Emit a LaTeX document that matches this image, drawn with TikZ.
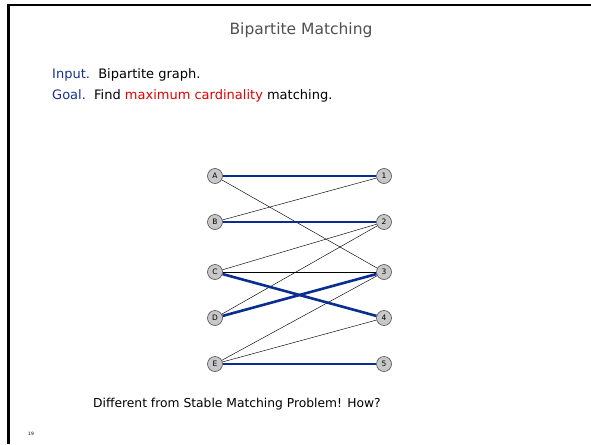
\documentclass[tikz,border=0pt]{standalone}
\usepackage{fontspec}
\setmainfont{DejaVu Sans}
\definecolor{kblue}{RGB}{20,50,150}
\definecolor{kred}{RGB}{225,0,0}
\definecolor{kgray}{RGB}{80,80,80}
\definecolor{nodefill}{RGB}{200,200,200}
\definecolor{edgeblue}{RGB}{10,45,145}
\begin{document}
\begin{tikzpicture}[x=1pt,y=-1pt,
  vert/.style={circle,draw=kgray,fill=nodefill,line width=0.6pt,minimum size=15pt,inner sep=0pt,font=\fontsize{7.5}{7.5}\selectfont},
  thin edge/.style={black,line width=0.45pt},
  match/.style={edgeblue,line width=2.6pt},
  body/.style={anchor=west,inner sep=0pt,font=\fontsize{13}{15}\selectfont}]
\useasboundingbox (0,0) rectangle (591,444);
\fill[white] (0,0) rectangle (591,444);
\draw[line width=2.5pt] (8.5,444) -- (8.5,5) -- (591,5);
\node[inner sep=0pt,text=kgray,font=\fontsize{15.5}{17}\selectfont] (title) at (301,30) {Bipartite Matching};
\node[body] (input) at (52,75) {\textcolor{kblue}{Input.}\ \ Bipartite graph.};
\node[body] (goal) at (52,96) {\textcolor{kblue}{Goal.}\ \ Find \textcolor{kred}{maximum cardinality} matching.};
\node[body,font=\fontsize{12.3}{14}\selectfont] (foot) at (93,404) {Different from Stable Matching Problem! How?};
\node[anchor=west,inner sep=0pt,font=\fontsize{4.5}{4.5}\selectfont] (pg) at (28,434) {19};
\node[vert] (A) at (215,176) {A};
\node[vert] (B) at (215,222) {B};
\node[vert] (C) at (215,272) {C};
\node[vert] (D) at (215,318) {D};
\node[vert] (E) at (215,364) {E};
\node[vert] (n1) at (384,176) {1};
\node[vert] (n2) at (384,222) {2};
\node[vert] (n3) at (384,272) {3};
\node[vert] (n4) at (384,318) {4};
\node[vert] (n5) at (384,364) {5};
\draw[thin edge] (A) -- (n3);
\draw[thin edge] (B) -- (n1);
\draw[thin edge] (C) -- (n2);
\draw[thin edge,line width=0.6pt] (C) -- (n3);
\draw[thin edge] (D) -- (n2);
\draw[thin edge] (E) -- (n3);
\draw[thin edge] (E) -- (n4);
\draw[match] (A) -- (n1);
\draw[match] (B) -- (n2);
\draw[match] (C) -- (n4);
\draw[match] (D) -- (n3);
\draw[match] (E) -- (n5);
\end{tikzpicture}
\end{document}
